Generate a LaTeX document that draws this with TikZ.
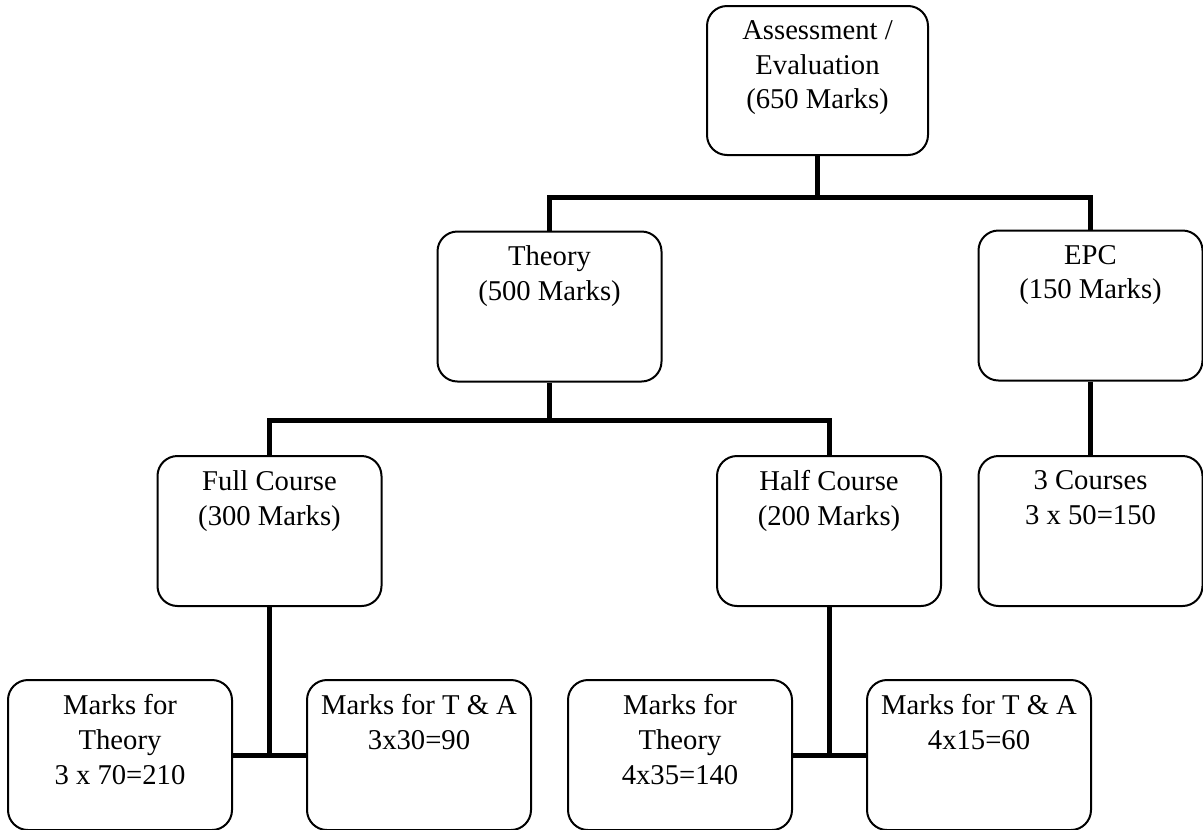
\documentclass[tikz,border=0pt]{standalone}
\usepackage{fontspec}
\setmainfont{Liberation Serif}
\begin{document}
\begin{tikzpicture}[x=0.75pt,y=-0.75pt,
  box/.style={draw, line width=1.5pt, rounded corners=15pt,
    minimum width=168pt, minimum height=112.5pt, inner sep=0pt},
  txt/.style={font=\fontsize{21.5}{26}\selectfont, align=center,
    inner sep=0pt, anchor=north},
  link/.style={line width=3.75pt}]
\useasboundingbox (0,0) rectangle (1203,829);

% boxes
\node[box, minimum width=165.75pt, minimum height=111.75pt] (assess) at (817.5,80.5) {};
\node[box] (theory) at (549.5,306.5) {};
\node[box] (epc) at (1090.5,305.5) {};
\node[box] (full) at (269.5,531) {};
\node[box] (half) at (829,531) {};
\node[box] (three) at (1090.5,531) {};
\node[box] (b1) at (120,755) {};
\node[box] (b2) at (419,755) {};
\node[box] (b3) at (680,755) {};
\node[box] (b4) at (979,755) {};

% texts, set near the top of each box
\node[txt] (assess-t) at ([yshift=-11.5pt]assess.north) {Assessment /\\Evaluation\\(650 Marks)};
\node[txt] (theory-t) at ([yshift=-11.5pt]theory.north) {Theory\\(500 Marks)};
\node[txt] (epc-t) at ([yshift=-11.5pt]epc.north) {EPC\\(150 Marks)};
\node[txt] (full-t) at ([yshift=-11.5pt]full.north) {Full Course\\(300 Marks)};
\node[txt] (half-t) at ([yshift=-11.5pt]half.north) {Half Course\\(200 Marks)};
\node[txt] (three-t) at ([yshift=-11.5pt]three.north) {3 Courses\\3 x 50=150};
\node[txt] (b1-t) at ([yshift=-11.5pt]b1.north) {Marks for\\Theory\\3 x 70=210};
\node[txt] (b2-t) at ([yshift=-11.5pt]b2.north) {Marks for T \& A\\3x30=90};
\node[txt] (b3-t) at ([yshift=-11.5pt]b3.north) {Marks for\\Theory\\4x35=140};
\node[txt] (b4-t) at ([yshift=-11.5pt]b4.north) {Marks for T \& A\\4x15=60};

% connectors
\coordinate (j1) at (0,197);
\coordinate (j2) at (0,420);
\draw[link] (assess.south) -- (assess.south |- j1);
\draw[link] (theory.north) -- (theory.north |- j1) -- (epc.north |- j1) -- (epc.north);
\draw[link] (theory.south) -- (theory.south |- j2);
\draw[link] (full.north) -- (full.north |- j2) -- (half.north |- j2) -- (half.north);
\draw[link] (epc.south) -- (three.north);
\draw[link] (full.south) -- (full.south |- b1.east);
\draw[link] (b1.east) -- (b2.west);
\draw[link] (half.south) -- (half.south |- b3.east);
\draw[link] (b3.east) -- (b4.west);
\end{tikzpicture}
\end{document}
